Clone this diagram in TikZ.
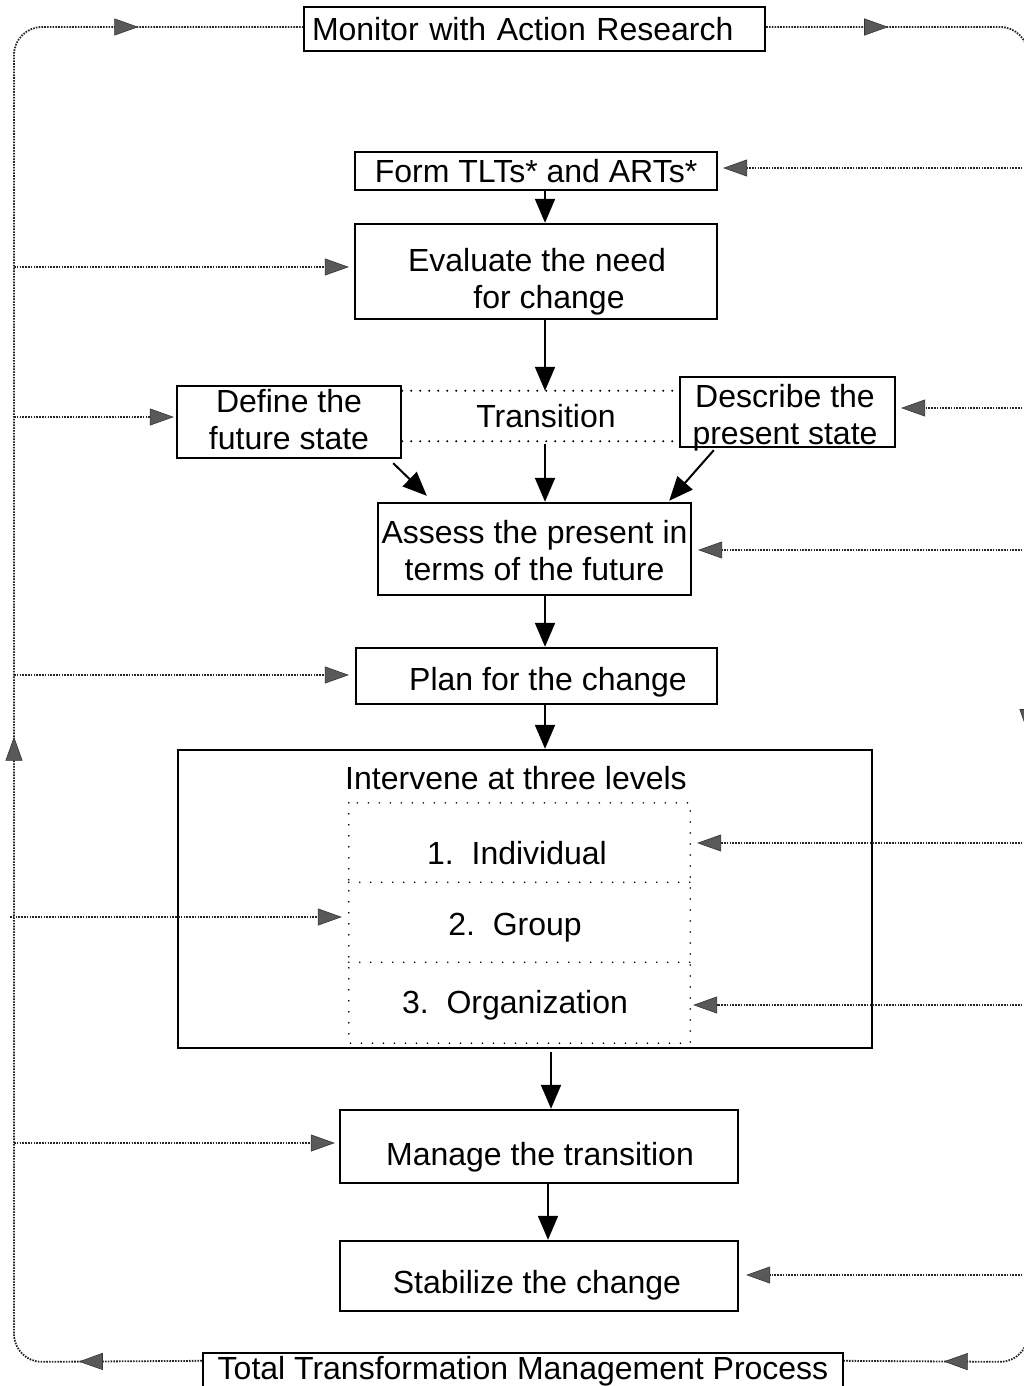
\documentclass[tikz,border=0pt]{standalone}
\usepackage{fontspec}
\setmainfont{Liberation Sans}
\usetikzlibrary{arrows.meta,calc,decorations.markings}
\tikzset{
  fbtip/.tip={Triangle[length=24pt,width=17pt,color=black!80,fill=black!65,line width=0.6pt]},
  box/.style={draw, line width=2.4pt, inner sep=0pt},
  txt/.style={inner sep=0pt, align=center},
  flow/.style={line width=2pt, -{Triangle[length=24pt,width=20pt]}},
  fb/.style={line width=1.8pt, draw=black!85, dash pattern=on 1.6pt off 1.2pt},
  fbarrow/.style={fb, -fbtip},
  dotline/.style={line width=2.2pt, line cap=round, dash pattern=on 0pt off 9pt},
  finedots/.style={line width=1.8pt, line cap=round, dash pattern=on 0pt off 11pt},
  row/.style={minimum width=341pt, inner sep=0pt},
}
\begin{document}
\begin{tikzpicture}[x=1pt,y=-1pt,font=\fontsize{32}{37}\selectfont]
\useasboundingbox (0,0) rectangle (1024,1386);

% boxes
\node[box, minimum width=461pt, minimum height=44pt, inner xsep=8pt, text width=445pt, align=left] (mon) at (534.5,29) {Monitor with Action Research};
\node[box, minimum width=362pt, minimum height=38pt, align=center] (form) at (536,171) {Form TLTs* and ARTs*};
\node[box, minimum width=362pt, minimum height=95pt] (eval) at (536,271.5) {};
\node[txt] (evalT) at (537,282) {Evaluate the need\\\hspace*{24pt}for change};
\node[box, minimum width=224pt, minimum height=72pt] (define) at (289,422) {};
\node[txt] (defineT) at (289,420) {Define the\\future state};
\node[inner sep=0pt, minimum height=50pt] (trans) at (546,416) {Transition};
\node[box, minimum width=215pt, minimum height=70pt] (describe) at (787.5,412) {};
\node[txt] (describeT) at (785,418) {Describe the\\present state};
\node[box, minimum width=313pt, minimum height=92pt] (assess) at (534.5,549) {};
\node[txt] (assessT) at (534.5,551) {Assess the present in\\terms of the future};
\node[box, minimum width=361pt, minimum height=56pt] (plan) at (536.5,676) {};
\node[txt] (planT) at (548,682) {Plan for the change};
\node[box, minimum width=694pt, minimum height=298pt] (interv) at (525,899) {};
\node[txt] (ivt) at (516,778) {Intervene at three levels};
\node[row, minimum height=79pt] (lv1) at (519.5,842.5) {};
\node[row, minimum height=80pt] (lv2) at (519.5,922) {};
\node[row, minimum height=81pt] (lv3) at (519.5,1002.5) {};
\node[txt] (lv1T) at (517,853) {1.\ \ Individual};
\node[txt] (lv2T) at (515,928) {2.\ \ Group};
\node[txt] (lv3T) at (515,1005) {3.\ \ Organization};
\draw[finedots] (lv1.north west) rectangle (lv3.south east);
\draw[finedots] (lv1.south west) -- (lv1.south east);
\draw[finedots] (lv2.south west) -- (lv2.south east);
\node[box, minimum width=398pt, minimum height=73pt] (manage) at (539,1146.5) {};
\node[txt] (manageT) at (540,1157) {Manage the transition};
\node[box, minimum width=398pt, minimum height=70pt] (stab) at (539,1276) {};
\node[txt] (stabT) at (537,1285) {Stabilize the change};
\node[box, minimum width=640pt, minimum height=46pt] (total) at (523,1376) {};
\node[txt] (totalT) at (523,1371) {Total Transformation Management Process};

% transition dotted lines
\draw[dotline] (define.east |- trans.north) -- (describe.west |- trans.north);
\draw[dotline] (define.east |- trans.south) -- (describe.west |- trans.south);

% main flow
\coordinate (sp) at (545,0);
\coordinate (sp2) at (551,0);
\coordinate (sp3) at (548,0);
\draw[flow] (form.south -| sp) -- (eval.north -| sp);
\draw[flow] (eval.south -| sp) -- (trans.north -| sp);
\draw[flow] ([yshift=-3pt]trans.south -| sp) -- (assess.north -| sp);
\draw[flow] ($(define.south east)+(-9,4)$) -- ($(assess.north west)+(50,-6)$);
\draw[flow] ($(describe.south west)+(35,2)$) -- ($(assess.north east)+(-23,-1)$);
\draw[flow] (assess.south -| sp) -- (plan.north -| sp);
\draw[flow] (plan.south -| sp) -- (interv.north -| sp);
\draw[flow] ([yshift=-3pt]interv.south -| sp2) -- (manage.north -| sp2);
\draw[flow] (manage.south -| sp3) -- (stab.north -| sp3);

% feedback loop
\coordinate (cTL) at (14,27);
\coordinate (cBL) at (14,1362);
\coordinate (cTR) at (1028,27);
\coordinate (cBR) at (1028,1362);
\draw[fb, rounded corners=28pt, postaction={decorate},
  decoration={markings,
    mark=at position 123pt with {\arrow{fbtip}},
    mark=at position 801pt with {\arrow{fbtip}},
    mark=at position 1623pt with {\arrow{fbtip}}}]
  ($(total.north west)+(0,9)$) -- (cBL) -- (cTL) -- (mon.west |- cTL);
\draw[fb, rounded corners=28pt, postaction={decorate},
  decoration={markings,
    mark=at position 122pt with {\arrow{fbtip}},
    mark=at position 956pt with {\arrow{fbtip}},
    mark=at position 1657pt with {\arrow{fbtip}}}]
  (mon.east |- cTR) -- (cTR) -- (cBR) -- ($(total.north east)+(0,9)$);

% left branches
\coordinate (L1) at (14,267);
\coordinate (L2) at (14,417);
\coordinate (L3) at (14,675);
\coordinate (L4) at (10,917);
\coordinate (L5) at (14,1143);
\draw[fbarrow, shorten >=5pt] (L1) -- (L1 -| eval.west);
\draw[fbarrow, shorten >=2pt] (L2) -- (L2 -| define.west);
\draw[fbarrow, shorten >=6pt] (L3) -- (L3 -| plan.west);
\draw[fbarrow, shorten >=7pt] (L4) -- (L4 -| lv2.west);
\draw[fbarrow, shorten >=4pt] (L5) -- (L5 -| manage.west);

% right branches
\coordinate (R1) at (1028,168);
\coordinate (R2) at (1028,408);
\coordinate (R3) at (1028,550);
\coordinate (R4) at (1028,843);
\coordinate (R5) at (1028,1005);
\coordinate (R6) at (1028,1275);
\draw[fbarrow, shorten >=5pt] (R1) -- (R1 -| form.east);
\draw[fbarrow, shorten >=5pt] (R2) -- (R2 -| describe.east);
\draw[fbarrow, shorten >=6pt] (R3) -- (R3 -| assess.east);
\draw[fbarrow, shorten >=7pt] (R4) -- (R4 -| lv1.east);
\draw[fbarrow, shorten >=3pt] (R5) -- (R5 -| lv3.east);
\draw[fbarrow, shorten >=7pt] (R6) -- (R6 -| stab.east);
\end{tikzpicture}
\end{document}
